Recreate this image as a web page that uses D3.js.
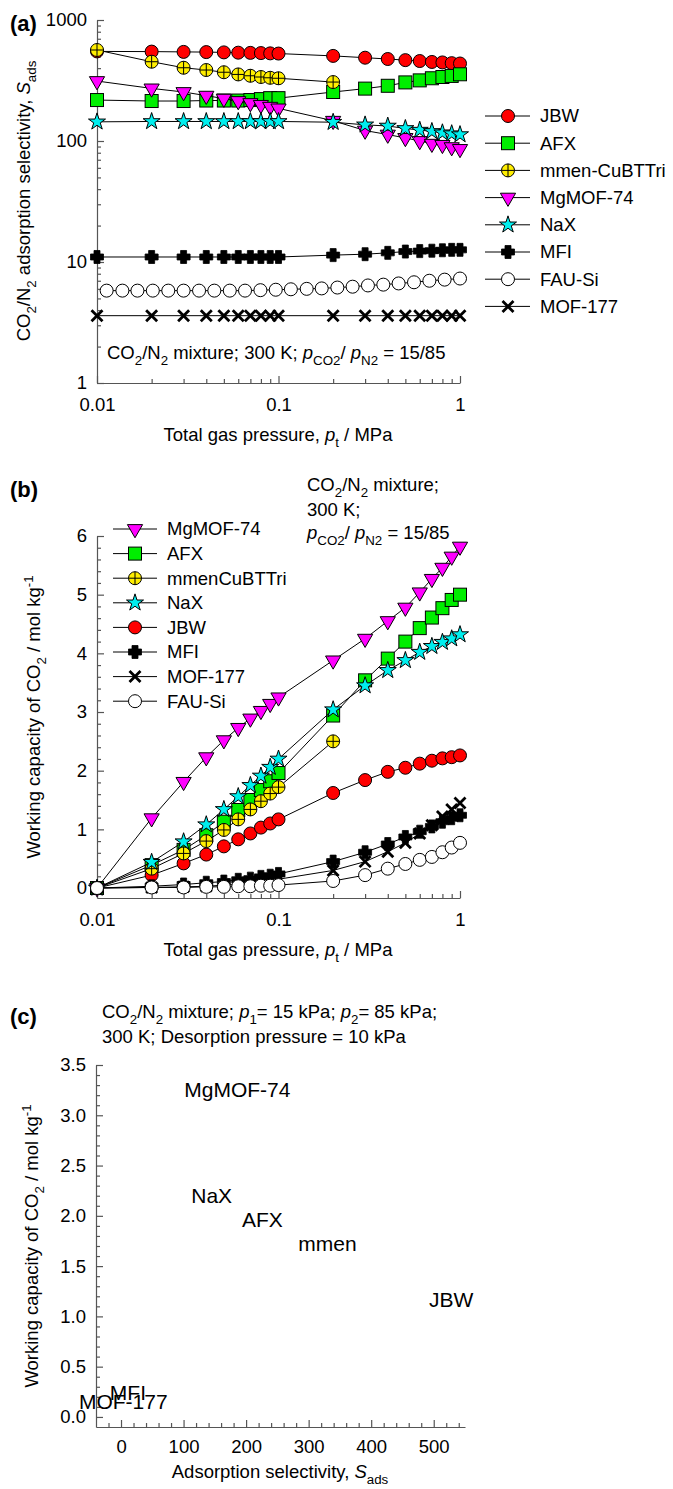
<!DOCTYPE html>
<html>
<head>
<meta charset="utf-8">
<script src="https://cdnjs.cloudflare.com/ajax/libs/d3/7.8.5/d3.min.js"></script>
<style>
  body { margin: 0; background: #fff; }
  text { font-family: "Liberation Sans", Arial, sans-serif; fill: #000; }
</style>
</head>
<body>
<svg width="673" height="1489"></svg>
<script>
// total gas pressure, MPa
var pressure = [0.01, 0.02, 0.03, 0.04, 0.05, 0.06, 0.07, 0.08, 0.09, 0.1,
                0.2, 0.3, 0.4, 0.5, 0.6, 0.7, 0.8, 0.9, 1.0];
var pressureMmen = [0.01, 0.02, 0.03, 0.04, 0.05, 0.06, 0.07, 0.08, 0.09, 0.1, 0.2];
var pressureFAU = [0.0113, 0.0138, 0.0167, 0.0203, 0.0247, 0.0300, 0.0365, 0.0443,
                   0.0539, 0.0654, 0.0795, 0.0966, 0.117, 0.143, 0.173, 0.211, 0.256,
                   0.311, 0.378, 0.459, 0.558, 0.678, 0.823, 1.0];

// (a) adsorption selectivity
var selJBW    = [550, 548, 545, 543, 540, 537, 535, 533, 530, 528, 505, 488, 476, 466, 458, 450, 446, 440, 437];
var selAFX    = [218, 214, 214, 216, 216, 216, 218, 222, 226, 226, 254, 271, 286, 305, 317, 330, 338, 345, 356];
var selMmen   = [565, 452, 403, 386, 370, 355, 346, 338, 333, 330, 307];
var selMgMOF  = [313, 272, 254, 237, 224, 214, 206, 199, 192, 186, 147, 122, 113, 106, 100, 95, 93, 89, 86];
var selNaX    = [144, 145, 145, 145, 145, 145, 145, 145, 145, 145, 143, 136, 133, 127, 123, 120, 117, 115, 113];
var selMFI    = [11.0, 11.0, 11.0, 11.0, 11.0, 11.0, 11.0, 11.0, 11.0, 11.0, 11.4, 11.6, 11.9, 12.2, 12.3, 12.4, 12.5, 12.6, 12.6];
var selFAU    = [5.8, 5.8, 5.8, 5.8, 5.8, 5.8, 5.8, 5.8, 5.8, 5.8, 5.85, 5.9, 5.95, 6.0, 6.05,
                 6.15, 6.25, 6.4, 6.5, 6.65, 6.8, 7.0, 7.15, 7.3];
var selMOF177 = [3.6, 3.6, 3.6, 3.6, 3.6, 3.6, 3.6, 3.6, 3.6, 3.6, 3.6, 3.6, 3.6, 3.6, 3.6, 3.6, 3.6, 3.6, 3.6];

// (b) working capacity of CO2, mol/kg
var wcMgMOF  = [0, 1.19, 1.81, 2.23, 2.52, 2.73, 2.89, 3.02, 3.14, 3.25, 3.88, 4.25, 4.55, 4.78, 5.04, 5.27, 5.46, 5.65, 5.82];
var wcAFX    = [0, 0.39, 0.65, 0.90, 1.13, 1.33, 1.50, 1.67, 1.82, 1.96, 2.94, 3.54, 3.91, 4.20, 4.43, 4.61, 4.77, 4.91, 5.00];
var wcMmen   = [0, 0.33, 0.59, 0.80, 0.99, 1.17, 1.34, 1.48, 1.61, 1.72, 2.50];
var wcNaX    = [0, 0.44, 0.79, 1.08, 1.34, 1.56, 1.75, 1.91, 2.06, 2.20, 3.04, 3.45, 3.71, 3.88, 4.02, 4.12, 4.19, 4.25, 4.32];
var wcJBW    = [0, 0.22, 0.42, 0.57, 0.71, 0.83, 0.93, 1.03, 1.10, 1.17, 1.62, 1.84, 1.98, 2.05, 2.12, 2.17, 2.21, 2.23, 2.26];
var wcMFI    = [0, 0.03, 0.06, 0.09, 0.11, 0.14, 0.16, 0.19, 0.21, 0.24, 0.45, 0.61, 0.75, 0.87, 0.96, 1.05, 1.13, 1.19, 1.24];
var wcMOF177 = [0, 0.01, 0.02, 0.03, 0.05, 0.06, 0.08, 0.10, 0.12, 0.15, 0.30, 0.45, 0.62, 0.77, 0.93, 1.07, 1.22, 1.34, 1.45];
var wcFAU    = [0, 0.01, 0.01, 0.02, 0.02, 0.03, 0.03, 0.04, 0.04, 0.05, 0.12, 0.22, 0.33, 0.41, 0.48, 0.53, 0.61, 0.69, 0.77];

// (c) selectivity vs working capacity (15/85 kPa, desorption at 10 kPa)
var cNames       = ["MgMOF-74", "NaX", "AFX", "mmen", "JBW", "MFI", "MOF-177"];
var cSelectivity = [186, 145, 226, 330, 528, 11, 3.6];
var cCapacity    = [3.25, 2.20, 1.96, 1.72, 1.17, 0.24, 0.15];

// tick values
var logXTicks = [0.01, 0.1, 1];
var logXMinor = [0.02, 0.03, 0.04, 0.05, 0.06, 0.07, 0.08, 0.09, 0.2, 0.3, 0.4, 0.5, 0.6, 0.7, 0.8, 0.9];
var selTicks = [1, 10, 100, 1000];
var selMinor = [2, 3, 4, 5, 6, 7, 8, 9, 20, 30, 40, 50, 60, 70, 80, 90, 200, 300, 400, 500, 600, 700, 800, 900];
var wcTicks = [0, 1, 2, 3, 4, 5, 6];
var cYTicks = [0, 0.5, 1.0, 1.5, 2.0, 2.5, 3.0, 3.5];
var cXTicks = [0, 100, 200, 300, 400, 500];

// marker styles
var styles = {
  "JBW":          {shape: "circle", fill: "#ff0000"},
  "AFX":          {shape: "square", fill: "#00ee00"},
  "mmen-CuBTTri": {shape: "cplus",  fill: "#ffee00"},
  "MgMOF-74":     {shape: "tri",    fill: "#ff00ff"},
  "NaX":          {shape: "star",   fill: "#00eeee"},
  "MFI":          {shape: "plus",   fill: "#000"},
  "FAU-Si":       {shape: "circle", fill: "#fff"},
  "MOF-177":      {shape: "times",  fill: "none"}
};

var FS = 18.5;
var svg = d3.select("svg");

function marker(g, st) {
  if (st.shape === "circle") {
    g.append("circle").attr("r", 6.5).attr("fill", st.fill).attr("stroke", "#000").attr("stroke-width", 1);
  } else if (st.shape === "cplus") {
    g.append("circle").attr("r", 6.5).attr("fill", st.fill).attr("stroke", "#000").attr("stroke-width", 1);
    g.append("path").attr("d", "M-6.5,0H6.5M0,-6.5V6.5").attr("stroke", "#000").attr("stroke-width", 1);
  } else if (st.shape === "square") {
    g.append("rect").attr("x", -6.5).attr("y", -6.5).attr("width", 13).attr("height", 13)
      .attr("fill", st.fill).attr("stroke", "#000").attr("stroke-width", 1);
  } else if (st.shape === "tri") {
    g.append("path").attr("d", d3.symbol(d3.symbolTriangle, 100)()).attr("transform", "rotate(180)")
      .attr("fill", st.fill).attr("stroke", "#000").attr("stroke-width", 1);
  } else if (st.shape === "star") {
    g.append("path").attr("d", d3.symbol(d3.symbolStar, 90)())
      .attr("fill", st.fill).attr("stroke", "#000").attr("stroke-width", 1);
  } else if (st.shape === "plus") {
    // chunky filled plus
    g.append("path").attr("d", "M-3,-6.5H3V-3H6.5V3H3V6.5H-3V3H-6.5V-3H-3Z")
      .attr("fill", "#000").attr("stroke", "#000").attr("stroke-width", 0.8).attr("stroke-linejoin", "round");
  } else if (st.shape === "times") {
    g.append("path").attr("d", "M-5.5,-5.5L5.5,5.5M-5.5,5.5L5.5,-5.5")
      .attr("stroke", "#000").attr("stroke-width", 2.8).attr("fill", "none");
  }
}

function drawSeries(g, x, y, xs, ys, name) {
  var pts = xs.map(function(d, i) { return [d, ys[i]]; });
  g.append("path")
    .attr("d", d3.line().x(function(d) { return x(d[0]); }).y(function(d) { return y(d[1]); })(pts))
    .attr("fill", "none").attr("stroke", "#000").attr("stroke-width", 1);
  g.selectAll(null).data(pts).enter().append("g")
    .attr("transform", function(d) { return "translate(" + x(d[0]) + "," + y(d[1]) + ")"; })
    .each(function() { marker(d3.select(this), styles[name]); });
}

// rich text: parts = [text, "sub"|"sup"|"", italic]
function rich(t, parts, fs) {
  var cur = 0;
  parts.forEach(function(p) {
    var shift = p[1] === "sub" ? fs * 0.3 : (p[1] === "sup" ? -fs * 0.4 : 0);
    var s = t.append("tspan").text(p[0]).attr("dy", shift - cur);
    cur = shift;
    if (p[1] === "sub" || p[1] === "sup") s.attr("font-size", fs * 0.72);
    if (p[2]) s.attr("font-style", "italic");
  });
}

function styleAxis(g) {
  g.selectAll(".domain").attr("stroke", "#555").attr("stroke-width", 1.2);
  g.selectAll(".tick line").attr("stroke", "#555").attr("stroke-width", 1.2);
  g.selectAll(".tick text").attr("font-size", FS).attr("font-family", "Liberation Sans, Arial, sans-serif").attr("fill", "#000");
}

function leftAxis(x0, y, major, minor, fmt) {
  var g = svg.append("g").attr("transform", "translate(" + x0 + ",0)");
  g.call(d3.axisLeft(y).tickValues(minor).tickFormat("").tickSizeInner(-4).tickSizeOuter(0));
  g.select(".domain").remove();
  var g2 = svg.append("g").attr("transform", "translate(" + x0 + ",0)");
  g2.call(d3.axisLeft(y).tickValues(major).tickFormat(fmt).tickSizeInner(-7).tickSizeOuter(0).tickPadding(10));
  styleAxis(g); styleAxis(g2);
}

function bottomAxis(y0, x, major, minor, fmt, pad) {
  var g = svg.append("g").attr("transform", "translate(0," + y0 + ")");
  g.call(d3.axisBottom(x).tickValues(minor).tickFormat("").tickSizeInner(-4).tickSizeOuter(0));
  g.select(".domain").remove();
  var g2 = svg.append("g").attr("transform", "translate(0," + y0 + ")");
  g2.call(d3.axisBottom(x).tickValues(major).tickFormat(fmt).tickSizeInner(-7).tickSizeOuter(0).tickPadding(pad));
  styleAxis(g); styleAxis(g2);
}

function label(x, y, parts, opts) {
  opts = opts || {};
  var t = svg.append("text").attr("x", x).attr("y", y).attr("font-size", opts.fs || FS)
    .attr("text-anchor", opts.anchor || "start");
  if (opts.bold) t.attr("font-weight", "bold");
  if (opts.rotate) t.attr("transform", "rotate(-90," + x + "," + y + ")");
  rich(t, parts, opts.fs || FS);
  return t;
}

// ---------- panel (a) ----------
var xa = d3.scaleLog().domain([0.01, 1]).range([97, 460]);
var ya = d3.scaleLog().domain([1, 1000]).range([383, 20]);

leftAxis(97, ya, selTicks, selMinor, function(d) { return String(d); });
bottomAxis(383, xa, logXTicks, logXMinor, function(d) { return String(d); }, 15);

var ga = svg.append("g");
drawSeries(ga, xa, ya, pressure, selJBW, "JBW");
drawSeries(ga, xa, ya, pressure, selAFX, "AFX");
drawSeries(ga, xa, ya, pressureMmen, selMmen, "mmen-CuBTTri");
drawSeries(ga, xa, ya, pressure, selMgMOF, "MgMOF-74");
drawSeries(ga, xa, ya, pressure, selNaX, "NaX");
drawSeries(ga, xa, ya, pressure, selMFI, "MFI");
drawSeries(ga, xa, ya, pressureFAU, selFAU, "FAU-Si");
drawSeries(ga, xa, ya, pressure, selMOF177, "MOF-177");

label(10, 31, [["(a)"]], {bold: true, fs: 22});
label(30, 201, [["CO"], ["2", "sub"], ["/N"], ["2", "sub"], [" adsorption selectivity, "], ["S", "", true], ["ads", "sub"]],
      {anchor: "middle", rotate: true});
label(278, 441, [["Total gas pressure, "], ["p", "", true], ["t", "sub"], [" / MPa"]], {anchor: "middle"});
label(107, 359, [["CO"], ["2", "sub"], ["/N"], ["2", "sub"], [" mixture; 300 K; "], ["p", "", true], ["CO2", "sub"],
      ["/ "], ["p", "", true], ["N2", "sub"], [" = 15/85"]]);

var legendA = ["JBW", "AFX", "mmen-CuBTTri", "MgMOF-74", "NaX", "MFI", "FAU-Si", "MOF-177"];
legendA.forEach(function(name, i) {
  var yy = 116 + i * 27.2;
  svg.append("line").attr("x1", 485).attr("x2", 530).attr("y1", yy).attr("y2", yy).attr("stroke", "#000");
  marker(svg.append("g").attr("transform", "translate(508," + yy + ")"), styles[name]);
  svg.append("text").attr("x", 540).attr("y", yy).attr("dy", "0.35em").attr("font-size", FS).text(name);
});

// ---------- panel (b) ----------
var xb = d3.scaleLog().domain([0.01, 1]).range([97, 460]);
var yb = d3.scaleLinear().domain([-0.17, 6]).range([898, 536]);
var wcMinor = d3.range(0.2, 6, 0.2).filter(function(d) { return Math.abs(d - Math.round(d)) > 0.05; });

leftAxis(97, yb, wcTicks, wcMinor, function(d) { return String(d); });
bottomAxis(898, xb, logXTicks, logXMinor, function(d) { return String(d); }, 15);

var gb = svg.append("g");
drawSeries(gb, xb, yb, pressure, wcJBW, "JBW");
drawSeries(gb, xb, yb, pressure, wcAFX, "AFX");
drawSeries(gb, xb, yb, pressureMmen, wcMmen, "mmen-CuBTTri");
drawSeries(gb, xb, yb, pressure, wcMgMOF, "MgMOF-74");
drawSeries(gb, xb, yb, pressure, wcNaX, "NaX");
drawSeries(gb, xb, yb, pressure, wcMFI, "MFI");
drawSeries(gb, xb, yb, pressure, wcMOF177, "MOF-177");
drawSeries(gb, xb, yb, pressure, wcFAU, "FAU-Si");

label(10, 497, [["(b)"]], {bold: true, fs: 22});
label(40, 717, [["Working capacity of CO"], ["2", "sub"], [" / mol kg"], ["-1", "sup"]], {anchor: "middle", rotate: true});
label(278, 956, [["Total gas pressure, "], ["p", "", true], ["t", "sub"], [" / MPa"]], {anchor: "middle"});
label(307, 491, [["CO"], ["2", "sub"], ["/N"], ["2", "sub"], [" mixture;"]]);
label(307, 516, [["300 K;"]]);
label(307, 539, [["p", "", true], ["CO2", "sub"], ["/ "], ["p", "", true], ["N2", "sub"], [" = 15/85"]]);

var legendB = [["MgMOF-74", "MgMOF-74"], ["AFX", "AFX"], ["mmen-CuBTTri", "mmenCuBTTri"], ["NaX", "NaX"],
               ["JBW", "JBW"], ["MFI", "MFI"], ["MOF-177", "MOF-177"], ["FAU-Si", "FAU-Si"]];
legendB.forEach(function(e, i) {
  var yy = 529 + i * 24.6;
  svg.append("line").attr("x1", 113).attr("x2", 157).attr("y1", yy).attr("y2", yy).attr("stroke", "#000");
  marker(svg.append("g").attr("transform", "translate(135," + yy + ")"), styles[e[0]]);
  svg.append("text").attr("x", 167).attr("y", yy).attr("dy", "0.35em").attr("font-size", FS).text(e[1]);
});

// ---------- panel (c) ----------
var xc = d3.scaleLinear().domain([-40, 550]).range([96, 465]);
var yc = d3.scaleLinear().domain([-0.1, 3.5]).range([1427, 1065]);
var cYMinor = d3.range(0.1, 3.5, 0.1).filter(function(d) { return Math.abs(d * 2 - Math.round(d * 2)) > 0.05; });
var cXMinor = d3.range(-20, 550, 20).filter(function(d) { return d % 100 !== 0; });

leftAxis(96, yc, cYTicks, cYMinor, d3.format(".1f"));
bottomAxis(1427, xc, cXTicks, cXMinor, function(d) { return String(d); }, 13);

svg.append("g").selectAll("text").data(cNames).enter().append("text")
  .attr("x", function(d, i) { return xc(cSelectivity[i]); })
  .attr("y", function(d, i) { return yc(cCapacity[i]); })
  .attr("dy", "0.35em").attr("text-anchor", "middle").attr("font-size", 21)
  .text(function(d) { return d; });

label(10, 1024, [["(c)"]], {bold: true, fs: 22});
label(102, 1018, [["CO"], ["2", "sub"], ["/N"], ["2", "sub"], [" mixture; "], ["p", "", true], ["1", "sub"], ["= 15 kPa; "],
      ["p", "", true], ["2", "sub"], ["= 85 kPa;"]]);
label(102, 1043, [["300 K; Desorption pressure = 10 kPa"]]);
label(38, 1246, [["Working capacity of CO"], ["2", "sub"], [" / mol kg"], ["-1", "sup"]], {anchor: "middle", rotate: true});
label(280, 1478, [["Adsorption selectivity, "], ["S", "", true], ["ads", "sub"]], {anchor: "middle"});
</script>
</body>
</html>
